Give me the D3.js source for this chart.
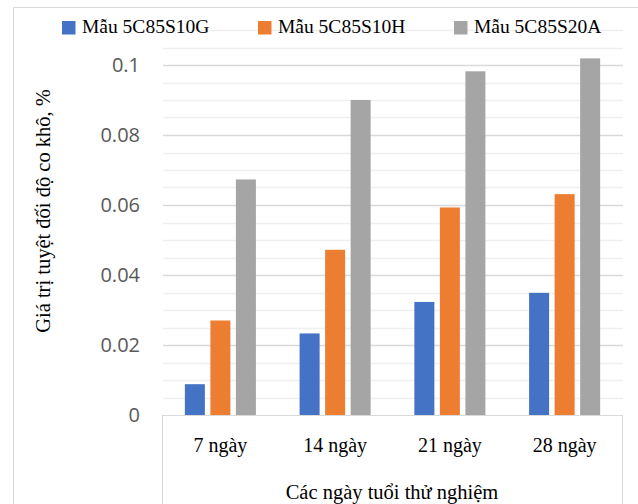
<!DOCTYPE html>
<html>
<head>
<meta charset="utf-8">
<script src="https://cdn.jsdelivr.net/npm/d3@7"></script>
<style>
  html, body { margin: 0; padding: 0; background: #fff; }
  svg { display: block; }
</style>
</head>
<body>
<svg id="chart" width="638" height="504"></svg>
<script>
// Drying shrinkage by curing age for three mixes
const categories = ["7 ngày", "14 ngày", "21 ngày", "28 ngày"];
const seriesNames = ["Mẫu 5C85S10G", "Mẫu 5C85S10H", "Mẫu 5C85S20A"];
const valuesG = [0.0088, 0.0233, 0.0323, 0.0349];
const valuesH = [0.0270, 0.0472, 0.0593, 0.0631];
const valuesA = [0.0673, 0.0900, 0.0982, 0.1019];
const seriesColors = ["#4472C4", "#ED7D31", "#A5A5A5"];
const yTickValues = [0, 0.02, 0.04, 0.06, 0.08, 0.1];
const yTickLabels = ["0", "0.02", "0.04", "0.06", "0.08", "0.1"];
const yMax = 0.11;
const minorStep = 0.005;
const yTitle = "Giá trị tuyệt đối độ co khô, %";
const xTitle = "Các ngày tuổi thử nghiệm";

const series = [valuesG, valuesH, valuesA];

const svg = d3.select("#chart");
const serif = "'Liberation Serif', 'Times New Roman', serif";
const sans = "'Open Sans', 'Liberation Sans', sans-serif";

const plot = { left: 163, right: 622, top: 30, bottom: 415 };

const x = d3.scaleBand()
  .domain(categories)
  .range([plot.left, plot.right])
  .paddingInner(0.381)
  .paddingOuter(0.1905);

const xInner = d3.scaleBand()
  .domain(d3.range(series.length))
  .range([0, x.bandwidth()])
  .paddingInner(0.216)
  .paddingOuter(0);

const y = d3.scaleLinear().domain([0, yMax]).range([plot.bottom, plot.top]);

// outer chart frame
svg.append("rect")
  .attr("x", 13.5).attr("y", 7.5)
  .attr("width", 700).attr("height", 600)
  .attr("fill", "none").attr("stroke", "#d9d9d9").attr("stroke-width", 1);

// minor and major gridlines
const gridVals = d3.range(1, Math.round(yMax / minorStep) + 1).map(i => +(i * minorStep).toFixed(3));
const isMajor = v => Math.abs(v / 0.02 - Math.round(v / 0.02)) < 1e-6;
svg.append("g").selectAll("line")
  .data(gridVals)
  .join("line")
  .attr("x1", plot.left).attr("x2", plot.right + 1)
  .attr("y1", d => Math.round(y(d)) + 0.5).attr("y2", d => Math.round(y(d)) + 0.5)
  .attr("stroke", d => isMajor(d) ? "#d9d9d9" : "#efefef")
  .attr("stroke-width", 1.5);

// bars
const groups = svg.append("g").selectAll("g")
  .data(categories)
  .join("g")
  .attr("transform", d => `translate(${x(d)},0)`);

groups.selectAll("rect")
  .data((c, ci) => series.map((s, si) => ({ si, v: s[ci] })))
  .join("rect")
  .attr("x", d => xInner(d.si))
  .attr("width", xInner.bandwidth())
  .attr("y", d => y(d.v))
  .attr("height", d => y(0) - y(d.v))
  .attr("fill", d => seriesColors[d.si]);

// category axis box
svg.append("rect")
  .attr("x", plot.left - 0.5).attr("y", plot.bottom + 0.5)
  .attr("width", plot.right - plot.left + 1).attr("height", 200)
  .attr("fill", "#fff").attr("stroke", "#d9d9d9").attr("stroke-width", 1);

// y axis labels
const yAxis = d3.axisLeft(y)
  .tickValues(yTickValues)
  .tickFormat((d, i) => yTickLabels[i])
  .tickSize(0)
  .tickPadding(0);
const yAxisG = svg.append("g")
  .attr("transform", "translate(140,0)")
  .call(yAxis);
yAxisG.select(".domain").remove();
yAxisG.selectAll("text")
  .attr("font-family", sans)
  .attr("font-size", 20)
  .attr("fill", "#595959");

// x axis labels
const xAxis = d3.axisBottom(x).tickSize(0).tickPadding(0);
const xAxisG = svg.append("g")
  .attr("transform", "translate(0,438)")
  .call(xAxis);
xAxisG.select(".domain").remove();
xAxisG.selectAll("text")
  .attr("font-family", serif)
  .attr("font-size", 20)
  .attr("fill", "#000")
  .attr("dy", "0.71em");

// axis titles
svg.append("text")
  .attr("transform", "translate(50,211) rotate(-90)")
  .attr("text-anchor", "middle")
  .attr("font-family", serif)
  .attr("font-size", 20.5)
  .attr("fill", "#000")
  .text(yTitle);

svg.append("text")
  .attr("x", 392).attr("y", 499)
  .attr("text-anchor", "middle")
  .attr("font-family", serif)
  .attr("font-size", 20.5)
  .attr("fill", "#000")
  .text(xTitle);

// legend
const legend = svg.append("g").selectAll("g")
  .data(seriesNames)
  .join("g")
  .attr("transform", (d, i) => `translate(${62 + i * 196},21)`);
legend.append("rect")
  .attr("width", 13.5).attr("height", 13.5)
  .attr("fill", (d, i) => seriesColors[i]);
legend.append("text")
  .attr("x", 20).attr("y", 12)
  .attr("font-family", serif)
  .attr("font-size", 19.5)
  .attr("fill", "#000")
  .text(d => d);
</script>
</body>
</html>
